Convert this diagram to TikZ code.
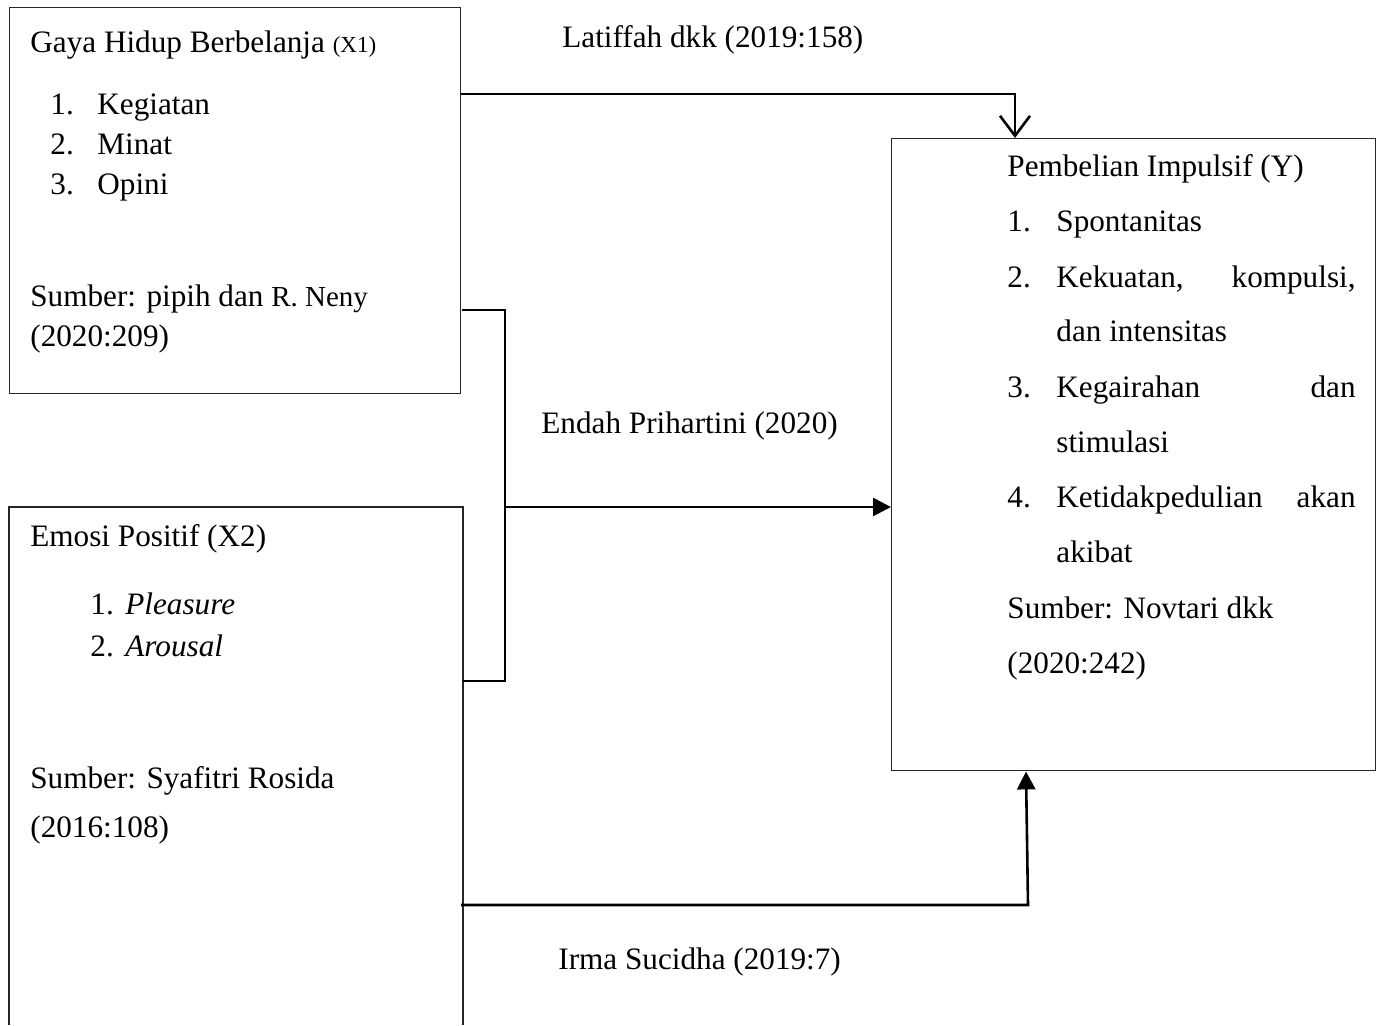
\documentclass[tikz,border=0pt]{standalone}
\usepackage{fontspec}
\setmainfont{Liberation Serif}
\usetikzlibrary{arrows.meta}
\begin{document}
\begin{tikzpicture}[x=0.5pt,y=-0.5pt,
  box/.style={draw=black!85,line width=0.7pt,anchor=north west,inner sep=0pt},
  conn/.style={line width=1.3pt,draw=black},
  txt/.style={anchor=base west,inner sep=0pt,font=\fontsize{15.6}{18}\selectfont},
  txtr/.style={anchor=base east,inner sep=0pt,font=\fontsize{15.6}{18}\selectfont}]
\useasboundingbox (0,0) rectangle (1382,1025);
% boxes
\node[box,minimum width=225.5pt,minimum height=193pt] (x1) at (9,7) {};
\node[box,minimum width=242pt,minimum height=316pt] (y) at (891,138) {};
\coordinate (x2a) at (9,1025);
\coordinate (x2b) at (9,507);
\coordinate (x2c) at (463,507);
\coordinate (x2d) at (463,1025);
\draw[draw=black!85,line width=0.7pt] (x2a) -- (x2b) -- (x2c) -- (x2d);
% connectors
\draw[conn,-{Straight Barb[length=10pt,width=15pt,line width=1.3pt]}] (x1.east |- 0,94) -| (y.north -| 1015,0);
\coordinate (b1) at (462,310);
\coordinate (b2) at (505,310);
\coordinate (b3) at (505,681);
\coordinate (b4) at (463,681);
\draw[conn] (b1) -- (b2) -- (b3) -- (b4);
\coordinate (j) at (505,507);
\draw[conn,-{Triangle[length=9pt,width=9pt]}] (j) -- (y.west |- j);
\coordinate (c1) at (461,905);
\coordinate (c2) at (1028,905);
\draw[conn,-{Triangle[length=9pt,width=9pt]}] (c1) -- (c2) -- (y.south -| 1026,0);
% box 1 text
\node[txt] (t1) at (30,52) {Gaya Hidup Berbelanja {\fontsize{11.5}{14}\selectfont(X1)}};
\node[txt] (n11) at (50,114) {1.};
\node[txt] (l11) at (97,114) {Kegiatan};
\node[txt] (n12) at (50,154) {2.};
\node[txt] (l12) at (97,154) {Minat};
\node[txt] (n13) at (50,194) {3.};
\node[txt] (l13) at (97,194) {Opini};
\node[txt] (s1a) at (30,306) {Sumber: pipih dan {\fontsize{14.5}{16}\selectfont R. Neny}};
\node[txt] (s1b) at (30,346) {(2020:209)};
% labels
\node[txt] (lat) at (562,47) {Latiffah dkk (2019:158)};
\node[txt] (end) at (541,433) {Endah Prihartini (2020)};
\node[txt] (irm) at (558,969) {Irma Sucidha (2019:7)};
% box 2 text
\node[txt] (t2) at (30,546) {Emosi Positif (X2)};
\node[txt] (n21) at (90,614) {1.};
\node[txt] (l21) at (125,614) {\itshape Pleasure};
\node[txt] (n22) at (90,656) {2.};
\node[txt] (l22) at (125,656) {\itshape Arousal};
\node[txt] (s2a) at (30,788) {Sumber: Syafitri Rosida};
\node[txt] (s2b) at (30,837) {(2016:108)};
% box Y text
\node[txt] (ty) at (1007,176) {Pembelian Impulsif (Y)};
\node[txt] (ny1) at (1007,231) {1.};
\node[txt] (ly1) at (1056,231) {Spontanitas};
\node[txt] (ny2) at (1007,287) {2.};
\node[txt] (ly2a) at (1056,287) {Kekuatan,};
\node[txtr] (ly2b) at (1356,287) {kompulsi,};
\node[txt] (ly2c) at (1056,341) {dan intensitas};
\node[txt] (ny3) at (1007,397) {3.};
\node[txt] (ly3a) at (1056,397) {Kegairahan};
\node[txtr] (ly3b) at (1356,397) {dan};
\node[txt] (ly3c) at (1056,452) {stimulasi};
\node[txt] (ny4) at (1007,507) {4.};
\node[txt] (ly4a) at (1056,507) {Ketidakpedulian};
\node[txtr] (ly4b) at (1356,507) {akan};
\node[txt] (ly4c) at (1056,562) {akibat};
\node[txt] (sya) at (1007,618) {Sumber: Novtari dkk};
\node[txt] (syb) at (1007,673) {(2020:242)};
\end{tikzpicture}
\end{document}
